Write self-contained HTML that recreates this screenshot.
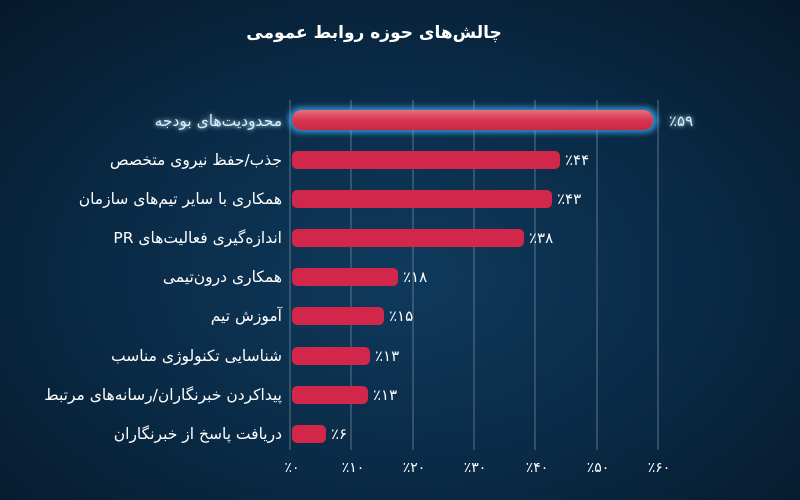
<!DOCTYPE html>
<html><head><meta charset="utf-8"><style>
html,body{margin:0;padding:0}
body{width:800px;height:500px;overflow:hidden;background:radial-gradient(ellipse 70% 75% at 50% 55%,#0f3a5c 0%,#0a2b47 50%,#061a2c 100%);font-family:"DejaVu Sans","Liberation Sans",sans-serif;}
</style></head><body>
<svg width="800" height="500" xmlns="http://www.w3.org/2000/svg" style="position:absolute;left:0;top:0">
<defs>
<filter id="g" x="-20%" y="-100%" width="140%" height="300%"><feGaussianBlur stdDeviation="3"/></filter>
<filter id="tg" x="-20%" y="-50%" width="140%" height="200%"><feGaussianBlur stdDeviation="2.5" result="b"/><feMerge><feMergeNode in="b"/><feMergeNode in="SourceGraphic"/></feMerge></filter>
<linearGradient id="tb" x1="0" y1="0" x2="0" y2="1"><stop offset="0" stop-color="#e8707c"/><stop offset="0.5" stop-color="#d93550"/><stop offset="1" stop-color="#c92846"/></linearGradient>
</defs>
<text x="374" y="38" text-anchor="middle" fill="#fff" font-size="17" font-weight="bold" direction="rtl">چالش‌های حوزه روابط عمومی</text>
<g stroke="#7f93a6" stroke-width="1" opacity="0.7">
<line x1="290" y1="100" x2="290" y2="450"/>
<line x1="351" y1="100" x2="351" y2="450"/>
<line x1="413" y1="100" x2="413" y2="450"/>
<line x1="474" y1="100" x2="474" y2="450"/>
<line x1="535" y1="100" x2="535" y2="450"/>
<line x1="597" y1="100" x2="597" y2="450"/>
<line x1="658" y1="100" x2="658" y2="450"/>
</g>
<g fill="#fff" font-size="14" text-anchor="middle">
<text x="292" y="472">٪۰</text><text x="353" y="472">٪۱۰</text><text x="414" y="472">٪۲۰</text><text x="475" y="472">٪۳۰</text><text x="537" y="472">٪۴۰</text><text x="598" y="472">٪۵۰</text><text x="659" y="472">٪۶۰</text>
</g>
<rect x="288" y="107" width="370" height="26" rx="13" fill="#3fb6ff" opacity="0.7" filter="url(#g)"/>
<rect x="292" y="110" width="361" height="20" rx="10" fill="url(#tb)"/>
<g fill="#d2264a">
<rect x="292" y="151" width="268" height="18" rx="5"/>
<rect x="292" y="190" width="260" height="18" rx="5"/>
<rect x="292" y="229" width="232" height="18" rx="5"/>
<rect x="292" y="268" width="106" height="18" rx="5"/>
<rect x="292" y="307" width="92" height="18" rx="5"/>
<rect x="292" y="347" width="78" height="18" rx="5"/>
<rect x="292" y="386" width="76" height="18" rx="5"/>
<rect x="292" y="425" width="34" height="18" rx="5"/>
</g>
<g font-size="15.5" text-anchor="start" fill="#fff" direction="rtl">
<text x="282" y="126" fill="#d4f0ff" filter="url(#tg)">محدودیت‌های بودجه</text>
<text x="282" y="165">جذب/حفظ نیروی متخصص</text>
<text x="282" y="204">همکاری با سایر تیم‌های سازمان</text>
<text x="282" y="243">اندازه‌گیری فعالیت‌های PR</text>
<text x="282" y="282">همکاری درون‌تیمی</text>
<text x="282" y="321">آموزش تیم</text>
<text x="282" y="361">شناسایی تکنولوژی مناسب</text>
<text x="282" y="400">پیداکردن خبرنگاران/رسانه‌های مرتبط</text>
<text x="282" y="439">دریافت پاسخ از خبرنگاران</text>
</g>
<g font-size="15" fill="#fff">
<text x="669" y="126" fill="#d4f0ff" filter="url(#tg)">٪۵۹</text>
<text x="565" y="165">٪۴۴</text>
<text x="557" y="204">٪۴۳</text>
<text x="529" y="243">٪۳۸</text>
<text x="403" y="282">٪۱۸</text>
<text x="389" y="321">٪۱۵</text>
<text x="375" y="361">٪۱۳</text>
<text x="373" y="400">٪۱۳</text>
<text x="331" y="439">٪۶</text>
</g>
</svg>
</body></html>
